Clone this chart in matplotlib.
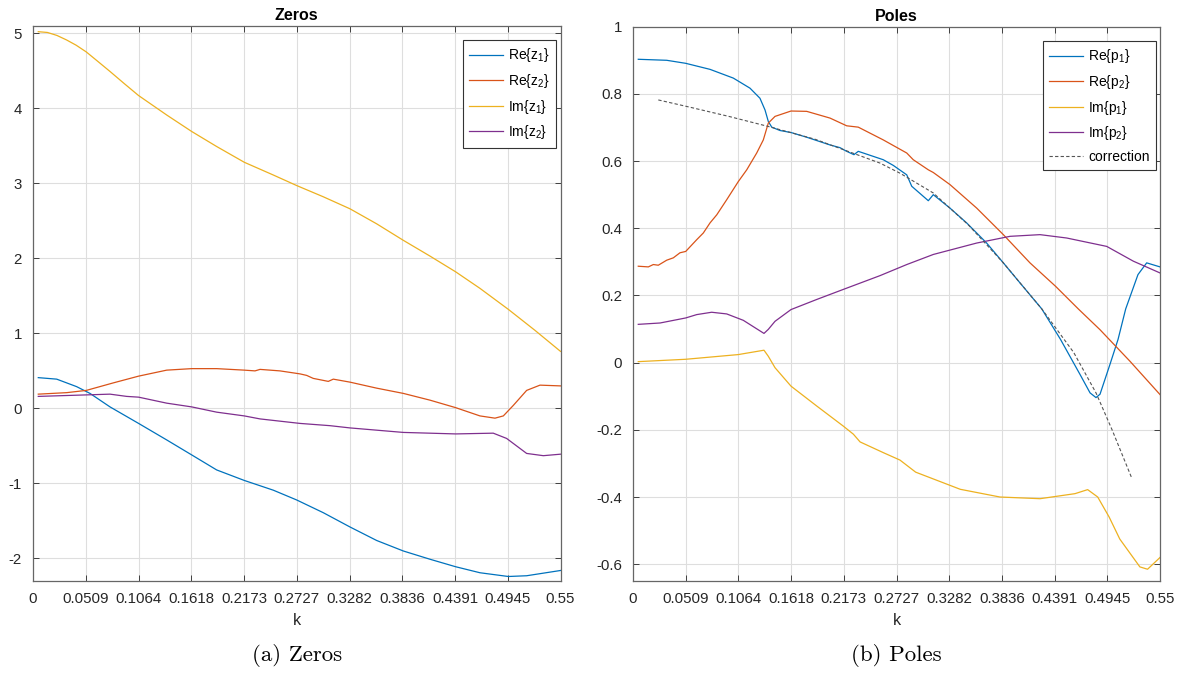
import numpy as np
import matplotlib
matplotlib.use("Agg")
import matplotlib.pyplot as plt

plt.rcParams['font.family'] = ['Liberation Sans', 'DejaVu Sans']
plt.rcParams['mathtext.default'] = 'regular'
plt.rcParams['axes.unicode_minus'] = False

# x axis: evenly spaced ticks with the labels as printed
tick_pos = [0, 0.055, 0.11, 0.165, 0.22, 0.275, 0.33, 0.385, 0.44, 0.495, 0.55]
tick_lbl = ['0', '0.0509', '0.1064', '0.1618', '0.2173', '0.2727',
            '0.3282', '0.3836', '0.4391', '0.4945', '0.55']

# ---- zeros ----
k_im_z1 = [0.0055, 0.015, 0.025, 0.035, 0.045, 0.0556, 0.068, 0.0803, 0.095, 0.110,
           0.1394, 0.1655, 0.1915, 0.2203, 0.2506, 0.2749, 0.3027, 0.3305, 0.3583, 0.3861,
           0.4139, 0.4407, 0.466, 0.4956, 0.5234, 0.55]
im_z1 = [5.02, 5.01, 4.97, 4.91, 4.84, 4.75, 4.62, 4.49, 4.33, 4.17,
         3.91, 3.69, 3.49, 3.28, 3.11, 2.97, 2.82, 2.66, 2.46, 2.24,
         2.03, 1.82, 1.60, 1.32, 1.04, 0.76]

k_re_z2 = [0.0055, 0.0351, 0.0556, 0.0837, 0.1101, 0.1394, 0.1655, 0.1915, 0.2203, 0.2315,
           0.2367, 0.2575, 0.2784, 0.2853, 0.2922, 0.3079, 0.3131, 0.3305, 0.3583, 0.3861,
           0.4139, 0.4407, 0.466, 0.4817, 0.4904, 0.5008, 0.5147, 0.5286, 0.55]
re_z2 = [0.19, 0.21, 0.24, 0.34, 0.43, 0.51, 0.53, 0.53, 0.51, 0.50,
         0.52, 0.50, 0.46, 0.44, 0.40, 0.36, 0.39, 0.35, 0.27, 0.20,
         0.11, 0.01, -0.10, -0.13, -0.10, 0.04, 0.24, 0.31, 0.30]

k_im_z2 = [0.0055, 0.0556, 0.0803, 0.0977, 0.1101, 0.1394, 0.1655, 0.1915, 0.2203, 0.2367,
           0.2575, 0.2784, 0.3096, 0.3305, 0.3861, 0.4407, 0.4799, 0.4938, 0.5147, 0.5321, 0.55]
im_z2 = [0.16, 0.18, 0.19, 0.16, 0.15, 0.07, 0.02, -0.05, -0.10, -0.14,
         -0.17, -0.20, -0.23, -0.26, -0.32, -0.34, -0.33, -0.40, -0.60, -0.63, -0.61]

k_re_z1 = [0.0055, 0.0247, 0.0455, 0.0594, 0.0803, 0.1101, 0.1394, 0.1655, 0.1915, 0.2203,
           0.2506, 0.2749, 0.3027, 0.3305, 0.3583, 0.3861, 0.4139, 0.4407, 0.466, 0.4956,
           0.5147, 0.55]
re_z1 = [0.41, 0.39, 0.29, 0.20, 0.02, -0.20, -0.42, -0.62, -0.82, -0.96,
         -1.09, -1.22, -1.39, -1.58, -1.76, -1.90, -2.01, -2.11, -2.19, -2.24,
         -2.23, -2.16]

# ---- poles ----
k_re_p1 = [0.0055, 0.0352, 0.055, 0.0804, 0.1047, 0.1221, 0.1325, 0.1378, 0.1412, 0.1448,
           0.1534, 0.1649, 0.1813, 0.2056, 0.2160, 0.2230, 0.2306, 0.2351, 0.2612, 0.2717,
           0.2857, 0.2909, 0.3082, 0.3134, 0.3308, 0.3482, 0.3691, 0.3865, 0.4040, 0.4266,
           0.446, 0.4665, 0.477, 0.4832, 0.4874, 0.4978, 0.5062, 0.5142, 0.527, 0.5361, 0.55]
re_p1 = [0.903, 0.900, 0.891, 0.873, 0.847, 0.817, 0.787, 0.752, 0.718, 0.701,
         0.691, 0.685, 0.671, 0.648, 0.640, 0.629, 0.619, 0.629, 0.604, 0.587,
         0.559, 0.525, 0.482, 0.500, 0.460, 0.416, 0.356, 0.297, 0.237, 0.160,
         0.07, -0.035, -0.09, -0.104, -0.094, -0.005, 0.069, 0.160, 0.262, 0.297, 0.285]

k_re_p2 = [0.0055, 0.016, 0.0212, 0.0264, 0.0352, 0.0421, 0.0490, 0.055, 0.0665, 0.0734,
           0.0804, 0.0874, 0.0978, 0.1099, 0.1187, 0.1291, 0.1360, 0.1412, 0.1482, 0.1649,
           0.1813, 0.2056, 0.2230, 0.2351, 0.2612, 0.2857, 0.2925, 0.3082, 0.3134, 0.3308,
           0.3587, 0.3865, 0.4143, 0.4411, 0.4647, 0.4874, 0.5187, 0.55]
re_p2 = [0.287, 0.285, 0.292, 0.290, 0.305, 0.312, 0.327, 0.331, 0.366, 0.386,
         0.416, 0.440, 0.485, 0.539, 0.574, 0.624, 0.663, 0.713, 0.733, 0.749,
         0.748, 0.728, 0.705, 0.701, 0.663, 0.624, 0.604, 0.574, 0.566, 0.530,
         0.460, 0.381, 0.297, 0.227, 0.160, 0.098, 0.004, -0.095]

k_im_p1 = [0.0055, 0.055, 0.1099, 0.1367, 0.1412, 0.1482, 0.1649, 0.1917, 0.2195, 0.2300,
           0.2370, 0.2613, 0.2786, 0.2950, 0.3415, 0.383, 0.4248, 0.4613, 0.4745, 0.485,
           0.497, 0.508, 0.529, 0.537, 0.55]
im_p1 = [0.003, 0.010, 0.024, 0.037, 0.019, -0.015, -0.070, -0.129, -0.189, -0.213,
         -0.236, -0.268, -0.290, -0.326, -0.377, -0.400, -0.405, -0.390, -0.378, -0.40,
         -0.46, -0.525, -0.608, -0.615, -0.58]

k_im_p2 = [0.0055, 0.0282, 0.055, 0.0665, 0.0821, 0.0978, 0.1151, 0.1367, 0.1412, 0.1482,
           0.1649, 0.1917, 0.2195, 0.2578, 0.2857, 0.3134, 0.3587, 0.3935, 0.4248, 0.4526,
           0.4944, 0.5222, 0.55]
im_p2 = [0.114, 0.118, 0.133, 0.143, 0.150, 0.145, 0.126, 0.087, 0.099, 0.123,
         0.158, 0.188, 0.218, 0.259, 0.292, 0.322, 0.356, 0.376, 0.381, 0.371,
         0.346, 0.302, 0.267]

k_corr = [0.0264, 0.06, 0.1, 0.1412, 0.19, 0.2578, 0.2786, 0.3134, 0.35, 0.3865,
          0.4266, 0.46, 0.4832, 0.50, 0.52]
corr = [0.782, 0.760, 0.733, 0.703, 0.665, 0.594, 0.564, 0.505, 0.41, 0.297,
        0.160, 0.03, -0.09, -0.2, -0.34]

blue, red, yellow, purple = '#0072BD', '#D95319', '#EDB120', '#7E2F8E'

W, H = 1186, 684
fig = plt.figure(figsize=(W / 100, H / 100), dpi=100)
ax1 = fig.add_axes([33 / W, 1 - 581 / H, 527.5 / W, 555.3 / H])
ax2 = fig.add_axes([633 / W, 1 - 581 / H, 527 / W, 554.3 / H])

lw = 0.9
ax1.plot(k_re_z1, re_z1, color=blue, lw=lw, label='Re{z$_1$}')
ax1.plot(k_re_z2, re_z2, color=red, lw=lw, label='Re{z$_2$}')
ax1.plot(k_im_z1, im_z1, color=yellow, lw=lw, label='Im{z$_1$}')
ax1.plot(k_im_z2, im_z2, color=purple, lw=lw, label='Im{z$_2$}')
ax1.set_ylim(-2.3, 5.1)
ax1.set_yticks([-2, -1, 0, 1, 2, 3, 4, 5])
ax1.set_title('Zeros', fontsize=11.5, fontweight='bold', pad=4)

ax2.plot(k_re_p1, re_p1, color=blue, lw=lw, label='Re{p$_1$}')
ax2.plot(k_re_p2, re_p2, color=red, lw=lw, label='Re{p$_2$}')
ax2.plot(k_im_p1, im_p1, color=yellow, lw=lw, label='Im{p$_1$}')
ax2.plot(k_im_p2, im_p2, color=purple, lw=lw, label='Im{p$_2$}')
ax2.plot(k_corr, corr, color='#555555', lw=0.8, ls=(0, (3, 2)), label='correction')
ax2.set_ylim(-0.65, 1.0)
ax2.set_yticks([-0.6, -0.4, -0.2, 0, 0.2, 0.4, 0.6, 0.8, 1])
ax2.set_yticklabels(['-0.6', '-0.4', '-0.2', '0', '0.2', '0.4', '0.6', '0.8', '1'])
ax2.set_title('Poles', fontsize=11.5, fontweight='bold', pad=4)

for ax, cap, anchor in [(ax1, '(a) Zeros', (0.9915, 0.974)), (ax2, '(b) Poles', (0.9924, 0.974))]:
    ax.set_xlim(0, 0.55)
    ax.set_xticks(tick_pos)
    ax.set_xticklabels(tick_lbl)
    ax.set_xlabel('k', fontsize=11.5, color='#262626', labelpad=5)
    ax.grid(True, color='#dedede', lw=0.8)
    ax.set_axisbelow(True)
    ax.tick_params(direction='in', top=True, right=True, labelsize=10.8,
                   colors='#262626', length=4, width=0.6, pad=8)
    for s in ax.spines.values():
        s.set_color('#666666')
        s.set_linewidth(0.9)
    leg = ax.legend(loc='upper right', bbox_to_anchor=anchor, borderaxespad=0,
                    fancybox=False, edgecolor='#333333', framealpha=1, fontsize=10,
                    handlelength=2.4, labelspacing=0.55, borderpad=0.45,
                    handletextpad=0.4)
    leg.get_frame().set_linewidth(0.8)
    ax.text(0.5, -0.135, cap, transform=ax.transAxes, ha='center', va='center',
            fontsize=16.5, family='cmr10')

fig.savefig('out.png', dpi=100)
